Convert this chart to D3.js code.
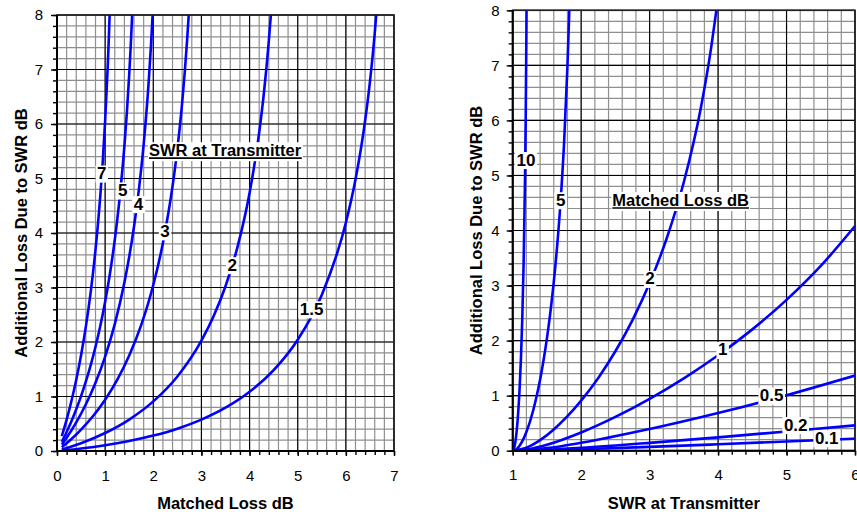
<!DOCTYPE html>
<html>
<head>
<meta charset="utf-8">
<script src="https://cdn.jsdelivr.net/npm/d3@7"></script>
<style>
  html, body { margin: 0; padding: 0; background: #fff; }
  svg { display: block; font-family: "Liberation Sans", Arial, sans-serif; }
</style>
</head>
<body>
<svg id="chart" width="857" height="512"></svg>
<script>
// ---------------- DATA ----------------
// Left panel: x = Matched Loss dB, y = Additional Loss Due to SWR dB, one curve per SWR
const leftSeriesNames = ["7", "5", "4", "3", "2", "1.5"];
const swr7_ml   = [0.1, 0.2, 0.3, 0.4, 0.5, 0.6, 0.7, 0.8, 0.9, 0.95, 1.0, 1.05, 1.08, 1.093];
const swr7_loss = [0.271, 0.575, 0.918, 1.308, 1.758, 2.286, 2.916, 3.693, 4.689, 5.311, 6.056, 6.978, 7.657, 8.0];
const swr5_ml   = [0.1, 0.2, 0.3, 0.4, 0.5, 0.6, 0.7, 0.8, 0.9, 1.0, 1.1, 1.2, 1.3, 1.4, 1.45, 1.5, 1.53, 1.561];
const swr5_loss = [0.167, 0.349, 0.548, 0.767, 1.008, 1.276, 1.576, 1.914, 2.298, 2.740, 3.258, 3.875, 4.631, 5.597, 6.196, 6.908, 7.409, 8.0];
const swr4_ml   = [0.1, 0.2, 0.4, 0.6, 0.8, 1.0, 1.2, 1.4, 1.5, 1.6, 1.7, 1.8, 1.9, 1.95, 1.986];
const swr4_loss = [0.117, 0.242, 0.525, 0.857, 1.253, 1.733, 2.329, 3.092, 3.564, 4.120, 4.790, 5.624, 6.713, 7.406, 8.0];
const swr3_ml   = [0.1, 0.3, 0.5, 0.75, 1.0, 1.25, 1.5, 1.75, 2.0, 2.2, 2.4, 2.5, 2.6, 2.7, 2.736];
const swr3_loss = [0.069, 0.220, 0.394, 0.642, 0.942, 1.304, 1.751, 2.313, 3.045, 3.817, 4.859, 5.540, 6.391, 7.507, 8.0];
const swr2_ml   = [0.1, 0.5, 1.0, 1.5, 2.0, 2.5, 3.0, 3.25, 3.5, 3.75, 4.0, 4.2, 4.3, 4.4, 4.442];
const swr2_loss = [0.026, 0.143, 0.330, 0.577, 0.910, 1.368, 2.025, 2.467, 3.023, 3.746, 4.733, 5.847, 6.587, 7.526, 8.0];
const swr15_ml   = [0.1, 0.5, 1.0, 1.5, 2.0, 2.5, 3.0, 3.5, 4.0, 4.5, 5.0, 5.5, 6.0, 6.2, 6.4, 6.5, 6.6, 6.631];
const swr15_loss = [0.009, 0.047, 0.107, 0.184, 0.283, 0.410, 0.576, 0.794, 1.086, 1.483, 2.041, 2.864, 4.187, 4.981, 6.060, 6.771, 7.667, 8.0];
// label anchor (data units) for each left curve
const leftLabelX = [0.93, 1.365, 1.69, 2.245, 3.64, 5.29];
const leftLabelY = [5.09, 4.78, 4.53, 4.03, 3.41, 2.60];

// Right panel: x = SWR at Transmitter, y = Additional Loss, one curve per Matched Loss dB
const rightSeriesNames = ["10", "5", "2", "1", "0.5", "0.2", "0.1"];
const ml10_swr  = [1, 1.01, 1.02, 1.05, 1.08, 1.1, 1.12, 1.14, 1.16, 1.18, 1.19, 1.2, 1.202];
const ml10_loss = [0, 0.011, 0.042, 0.264, 0.689, 1.107, 1.664, 2.407, 3.431, 4.943, 6.035, 7.570, 8.0];
const ml5_swr   = [1, 1.05, 1.1, 1.2, 1.3, 1.35, 1.4, 1.45, 1.5, 1.55, 1.6, 1.65, 1.7, 1.75, 1.8, 1.827];
const ml5_loss  = [0, 0.023, 0.090, 0.339, 0.735, 0.992, 1.291, 1.638, 2.041, 2.511, 3.065, 3.728, 4.541, 5.579, 6.990, 8.0];
const ml2_swr   = [1, 1.2, 1.4, 1.6, 1.8, 2, 2.25, 2.5, 2.75, 3, 3.25, 3.5, 3.75, 3.9, 3.975];
const ml2_loss  = [0, 0.055, 0.192, 0.386, 0.627, 0.910, 1.322, 1.806, 2.373, 3.045, 3.859, 4.881, 6.239, 7.330, 8.0];
const ml1_swr   = [1, 1.25, 1.5, 2, 2.5, 3, 3.5, 4, 4.5, 5, 5.5, 6];
const ml1_loss  = [0, 0.032, 0.107, 0.330, 0.613, 0.942, 1.314, 1.733, 2.204, 2.740, 3.357, 4.081];
const ml05_swr  = [1, 1.5, 2, 3, 4, 5, 6];
const ml05_loss = [0, 0.047, 0.143, 0.394, 0.684, 1.008, 1.365];
const ml02_swr  = [1, 1.5, 2, 3, 4, 5, 6];
const ml02_loss = [0, 0.018, 0.053, 0.142, 0.242, 0.349, 0.460];
const ml01_swr  = [1, 1.5, 2, 3, 4, 5, 6];
const ml01_loss = [0, 0.009, 0.026, 0.069, 0.117, 0.167, 0.219];
const rightLabelX = [1.194, 1.70, 3.006, 4.067, 4.783, 5.134, 5.587];
const rightLabelY = [5.28, 4.55, 3.12, 1.83, 1.00, 0.466, 0.226];

// Axis ticks
const leftXTicks  = [0, 1, 2, 3, 4, 5, 6, 7];
const leftYTicks  = [0, 1, 2, 3, 4, 5, 6, 7, 8];
const rightXTicks = [1, 2, 3, 4, 5, 6];
const rightYTicks = [0, 1, 2, 3, 4, 5, 6, 7, 8];
const minorStep = 0.2;

// Texts
const leftXTitle = "Matched Loss dB";
const leftYTitle = "Additional Loss Due to SWR dB";
const leftLegendTitle = "SWR at Transmitter";
const rightXTitle = "SWR at Transmitter";
const rightYTitle = "Additional Loss Due to SWR dB";
const rightLegendTitle = "Matched Loss dB";

// ---------------- DRAWING ----------------
const svg = d3.select("#chart");
const zip = (xs, ys) => xs.map((x, i) => [x, ys[i]]);

const leftSeries = [
  zip(swr7_ml, swr7_loss), zip(swr5_ml, swr5_loss), zip(swr4_ml, swr4_loss),
  zip(swr3_ml, swr3_loss), zip(swr2_ml, swr2_loss), zip(swr15_ml, swr15_loss)
];
const rightSeries = [
  zip(ml10_swr, ml10_loss), zip(ml5_swr, ml5_loss), zip(ml2_swr, ml2_loss),
  zip(ml1_swr, ml1_loss), zip(ml05_swr, ml05_loss), zip(ml02_swr, ml02_loss), zip(ml01_swr, ml01_loss)
];

function drawPanel(cfg, id) {
  const x = d3.scaleLinear().domain(cfg.xDomain).range(cfg.xRange);
  const y = d3.scaleLinear().domain(cfg.yDomain).range(cfg.yRange);
  const g = svg.append("g");
  const [x0, x1] = cfg.xRange, [y0, y1] = [cfg.yRange[1], cfg.yRange[0]];

  const minorX = d3.range(cfg.xDomain[0], cfg.xDomain[1] + 1e-9, minorStep).map(v => +v.toFixed(3));
  const minorY = d3.range(cfg.yDomain[0], cfg.yDomain[1] + 1e-9, minorStep).map(v => +v.toFixed(3));

  // minor grid
  g.append("g").selectAll("line").data(minorX).join("line")
    .attr("x1", d => x(d)).attr("x2", d => x(d)).attr("y1", y0).attr("y2", y1)
    .attr("stroke", "#8f8f8f").attr("stroke-width", 1.2);
  g.append("g").selectAll("line").data(minorY).join("line")
    .attr("y1", d => y(d)).attr("y2", d => y(d)).attr("x1", x0).attr("x2", x1)
    .attr("stroke", "#8f8f8f").attr("stroke-width", 1.2);
  // major grid
  g.append("g").selectAll("line").data(cfg.xTicks).join("line")
    .attr("x1", d => x(d)).attr("x2", d => x(d)).attr("y1", y0).attr("y2", y1)
    .attr("stroke", "#000").attr("stroke-width", 1.1);
  g.append("g").selectAll("line").data(cfg.yTicks).join("line")
    .attr("y1", d => y(d)).attr("y2", d => y(d)).attr("x1", x0).attr("x2", x1)
    .attr("stroke", "#000").attr("stroke-width", 1.1);
  // frame
  g.append("rect").attr("x", x0).attr("y", y0).attr("width", x1 - x0).attr("height", y1 - y0)
    .attr("fill", "none").attr("stroke", "#222").attr("stroke-width", 1.6);

  // curves
  const clipId = "clip" + id;
  svg.append("clipPath").attr("id", clipId).append("rect")
    .attr("x", x0).attr("y", y0 - 1).attr("width", x1 - x0).attr("height", y1 - y0 + 2);
  const line = d3.line().x(d => x(d[0])).y(d => y(d[1])).curve(d3.curveMonotoneX);
  g.append("g").attr("clip-path", `url(#${clipId})`).selectAll("path").data(cfg.series).join("path")
    .attr("d", line).attr("fill", "none").attr("stroke", "#0000ff").attr("stroke-width", 2.6)
    .attr("stroke-linejoin", "round");

  // curve labels
  cfg.names.forEach((name, i) => {
    const lg = g.append("g");
    const r = lg.append("rect").attr("fill", "#fff");
    const t = lg.append("text").attr("x", x(cfg.labelX[i])).attr("y", y(cfg.labelY[i]))
      .attr("text-anchor", "middle").attr("dominant-baseline", "central")
      .attr("font-size", 17).attr("font-weight", "bold").attr("fill", "#000").text(name);
    const bb = t.node().getBBox();
    r.attr("x", bb.x - 1.5).attr("y", bb.y + 1.5).attr("width", bb.width + 3).attr("height", bb.height - 2);
  });

  // legend title (underlined, white background)
  const leg = g.append("g");
  const lr = leg.append("rect").attr("fill", "#fff");
  const lt = leg.append("text").attr("x", x(cfg.legendX)).attr("y", y(cfg.legendY))
    .attr("font-size", 16.5).attr("font-weight", "bold").attr("fill", "#000").text(cfg.legendTitle);
  const lb = lt.node().getBBox();
  lr.attr("x", lb.x - 1).attr("y", lb.y + 1).attr("width", lb.width + 2).attr("height", lb.height + 1);
  leg.append("line").attr("x1", lb.x).attr("x2", lb.x + lb.width)
    .attr("y1", y(cfg.legendY) + 2).attr("y2", y(cfg.legendY) + 2)
    .attr("stroke", "#000").attr("stroke-width", 1.6);

  // axes
  const ax = g.append("g").attr("transform", `translate(0,${y1})`);
  ax.append("g").call(d3.axisBottom(x).tickValues(minorX).tickSize(4).tickFormat(""));
  ax.append("g").call(d3.axisBottom(x).tickValues(cfg.xTicks).tickSize(5).tickPadding(14).tickFormat(d3.format("d")));
  ax.selectAll(".domain").remove();
  ax.selectAll("line").attr("stroke", "#000").attr("stroke-width", 1.4);
  ax.selectAll("text").attr("font-size", 15).attr("fill", "#000").attr("font-family", "Liberation Sans, Arial, sans-serif");

  const ay = g.append("g").attr("transform", `translate(${x0},0)`);
  ay.append("g").call(d3.axisLeft(y).tickValues(minorY).tickSize(4).tickFormat(""));
  ay.append("g").call(d3.axisLeft(y).tickValues(cfg.yTicks).tickSize(6).tickPadding(cfg.yPad).tickFormat(d3.format("d")));
  ay.selectAll(".domain").remove();
  ay.selectAll("line").attr("stroke", "#000").attr("stroke-width", 1.4);
  ay.selectAll("text").attr("font-size", 15).attr("fill", "#000").attr("font-family", "Liberation Sans, Arial, sans-serif");

  // axis lines
  g.append("line").attr("x1", x0).attr("x2", x1).attr("y1", y1).attr("y2", y1)
    .attr("stroke", "#000").attr("stroke-width", 2);
  g.append("line").attr("x1", x0).attr("x2", x0).attr("y1", y0).attr("y2", y1)
    .attr("stroke", "#000").attr("stroke-width", 2);

  // axis titles
  g.append("text").attr("x", (x0 + x1) / 2).attr("y", 509).attr("text-anchor", "middle")
    .attr("font-size", 16.5).attr("font-weight", "bold").attr("fill", "#000").text(cfg.xTitle);
  g.append("text").attr("transform", `translate(${cfg.yTitleX},${(y0 + y1) / 2}) rotate(-90)`)
    .attr("text-anchor", "middle").attr("font-size", 16.5).attr("font-weight", "bold")
    .attr("fill", "#000").text(cfg.yTitle);
}

drawPanel({
  xDomain: [0, 7], yDomain: [0, 8], xRange: [57, 394], yRange: [451, 15],
  xTicks: leftXTicks, yTicks: leftYTicks, series: leftSeries, names: leftSeriesNames,
  labelX: leftLabelX, labelY: leftLabelY,
  legendTitle: leftLegendTitle, legendX: 1.911, legendY: 5.41,
  xTitle: leftXTitle, yTitle: leftYTitle, yTitleX: 27, yPad: 8
}, "L");

drawPanel({
  xDomain: [1, 6], yDomain: [0, 8], xRange: [512.7, 855], yRange: [450.7, 10.3],
  xTicks: rightXTicks, yTicks: rightYTicks, series: rightSeries, names: rightSeriesNames,
  labelX: rightLabelX, labelY: rightLabelY,
  legendTitle: rightLegendTitle, legendX: 2.455, legendY: 4.445,
  xTitle: rightXTitle, yTitle: rightYTitle, yTitleX: 482, yPad: 7
}, "R");
</script>
</body>
</html>
